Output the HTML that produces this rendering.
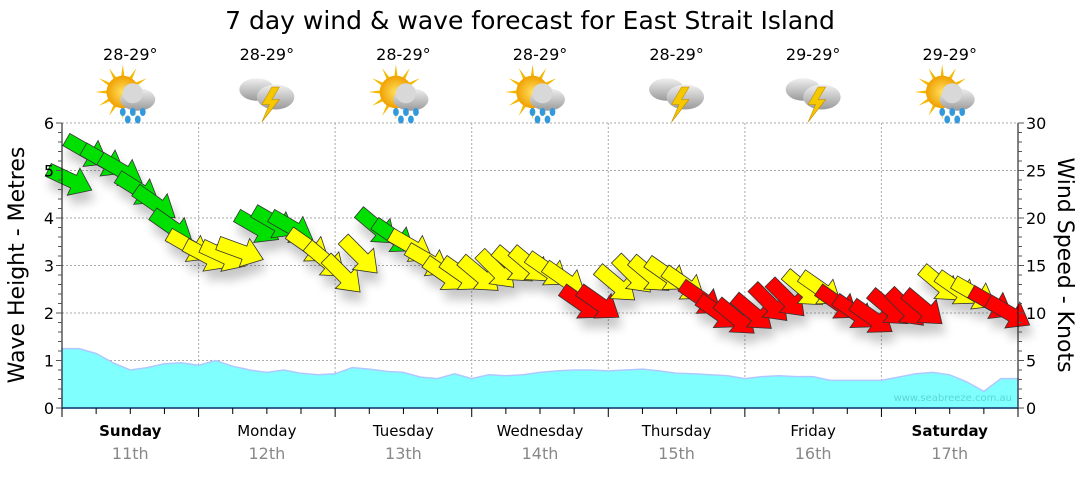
<!DOCTYPE html>
<html><head><meta charset="utf-8"><style>
body{margin:0;background:#fff;width:1080px;height:475px;overflow:hidden;font-family:"Liberation Sans","DejaVu Sans",sans-serif}
svg text{font-family:"DejaVu Sans","Liberation Sans",sans-serif}
</style></head><body>
<svg id="chart" width="1080" height="475" xmlns="http://www.w3.org/2000/svg">
<defs>
<filter id="sh" x="-50%" y="-50%" width="200%" height="200%"><feGaussianBlur in="SourceAlpha" stdDeviation="5"/><feOffset dx="3" dy="10"/><feComponentTransfer><feFuncA type="linear" slope="0.22"/></feComponentTransfer><feMerge><feMergeNode/><feMergeNode in="SourceGraphic"/></feMerge></filter>
<radialGradient id="sun" cx="50%" cy="50%" r="50%"><stop offset="0" stop-color="#ffe060"/><stop offset="1" stop-color="#f0a000"/></radialGradient>
<linearGradient id="cl" x1="0" y1="0" x2="0" y2="1"><stop offset="0" stop-color="#f0f0f0"/><stop offset="1" stop-color="#9a9a9a"/></linearGradient>
</defs>
<text x="530" y="29" font-size="25" text-anchor="middle" fill="#000">7 day wind &amp; wave forecast for East Strait Island</text>
<g id="grid"></g><g id="waves"></g><g id="arrows" filter="url(#sh)"></g><g id="axes"></g><g id="topg"></g>
<text x="1012" y="401" font-size="10" text-anchor="end" fill="#5cd6d6">www.seabreeze.com.au</text>
<text transform="translate(24,265) rotate(-90)" font-size="22" text-anchor="middle">Wave Height - Metres</text>
<text transform="translate(1058,265) rotate(90)" font-size="22" text-anchor="middle">Wind Speed - Knots</text>
</svg>
<script>
const days=["Sunday","Monday","Tuesday","Wednesday","Thursday","Friday","Saturday"];
const dates=["11th","12th","13th","14th","15th","16th","17th"];
const boldDays=[true,false,false,false,false,false,true];
const temps=["28-29°","28-29°","28-29°","28-29°","28-29°","29-29°","29-29°"];
const icons=["sunrain","storm","sunrain","sunrain","storm","storm","sunrain"];
const windKnots=[24,27,26,25,23,21.5,19,17, 16,16,16.5,19,19.5,19,17,15.5, 14,16,19,18,17,15.5,14,14, 14,14.5,15,15,14.5,13.5,11,11, 13,14,14,14,13,11.5,10,9.5, 10,11,11.5,12.5,12.5,11,10,9.5, 10.5,10.5,10.5,13,12.5,12,11,10];
const windDir=[25,30,30,30,32,35,35,30, 28,25,20,30,30,30,35,40, 45,45,40,35,30,30,35,35, 40,45,40,40,35,35,35,35, 40,45,40,35,35,35,35,40, 40,45,45,40,35,35,35,35, 40,45,40,40,35,30,30,30];
const waveM=[1.25,1.25,1.15,0.95,0.8,0.85,0.93,0.95, 0.9,1.0,0.88,0.8,0.75,0.8,0.73,0.7, 0.72,0.85,0.82,0.77,0.75,0.65,0.62,0.72, 0.62,0.7,0.68,0.7,0.75,0.78,0.8,0.8, 0.78,0.8,0.82,0.78,0.73,0.72,0.7,0.68, 0.62,0.66,0.68,0.66,0.66,0.58,0.58,0.58, 0.58,0.65,0.72,0.75,0.7,0.55,0.35,0.62, 0.62];
const leftTicks=[0,1,2,3,4,5,6];
const rightTicks=[0,5,10,15,20,25,30];
const NS="http://www.w3.org/2000/svg";
const X0=62,X1=1018,Y0=408,Y6=123,N=56;
const xs=i=>X0+(X1-X0)*i/N;
const ym=m=>Y0-(Y0-Y6)*m/6;
const yk=k=>ym(k/5);
function mk(tag,attrs,parent){const e=document.createElementNS(NS,tag);for(const k in attrs)e.setAttribute(k,attrs[k]);parent.appendChild(e);return e;}
const G=id=>document.getElementById(id);
const grid=G('grid');
for(const t of leftTicks){if(t===0)continue;const l=mk('line',{x1:X0,x2:X1,y1:ym(t),y2:ym(t),stroke:'#aaa','stroke-dasharray':'2,2'},grid);

}
for(let d=1;d<7;d++){const l=mk('line',{x1:xs(d*8),x2:xs(d*8),y1:Y6,y2:Y0,stroke:'#aaa','stroke-dasharray':'2,2'},grid);

}
let p='M'+X0+','+Y0;
waveM.forEach((m,i)=>{p+=' L'+xs(i).toFixed(1)+','+ym(m).toFixed(1);});
p+=' L'+X1+','+Y0+' Z';
const wa=mk('path',{d:p,fill:'#80ffff',stroke:'#b0c8ff','stroke-width':1.5},G('waves'));


const ag=G('arrows');
windKnots.forEach((k,i)=>{
 const col=k>=18?'#00e000':(k<12?'#ff0000':'#ffff00');
 const a=mk('polygon',{points:'-24,-7 4,-7 4,-15 24,0 4,15 4,7 -24,7',fill:col,stroke:'#333','stroke-width':0.8,
  transform:`translate(${(xs(i)+8).toFixed(1)},${yk(k).toFixed(1)}) rotate(${windDir[i]})`},ag);
 
 
});
const ax=G('axes');
mk('line',{x1:X0,x2:X0,y1:Y6,y2:Y0,stroke:'#000'},ax);
mk('line',{x1:X1,x2:X1,y1:Y6,y2:Y0,stroke:'#000'},ax);
mk('line',{x1:X0,x2:X1,y1:Y0,y2:Y0,stroke:'#0a3a6a','stroke-width':1.5},ax);
for(let m=0;m<=30;m++){const y=ym(m/5);mk('line',{x1:X0-(m%5?4:6),x2:X0,y1:y,y2:y,stroke:'#555'},ax);mk('line',{x1:X1,x2:X1+(m%5?4:6),y1:y,y2:y,stroke:'#555'},ax);}
for(const t of leftTicks){const e=mk('text',{x:X0-8,y:ym(t)+6,'font-size':16,'text-anchor':'end'},ax);e.textContent=t;

}
for(const t of rightTicks){const e=mk('text',{x:X1+8,y:yk(t)+6,'font-size':16},ax);e.textContent=t;

}
for(let i=0;i<=28;i++){const x=X0+(X1-X0)*i/28;mk('line',{x1:x,x2:x,y1:Y0,y2:Y0+(i%4?6:9),stroke:'#000'},ax);}
const topG=G('topg');
days.forEach((d,i)=>{
 const cx=X0+(X1-X0)*(i+0.5)/7;
 const e=mk('text',{x:cx,y:436,'font-size':15,'text-anchor':'middle','font-weight':boldDays[i]?'bold':'normal'},ax);e.textContent=d;
 
 
 const f=mk('text',{x:cx,y:459,'font-size':16,'text-anchor':'middle',fill:'#888'},ax);f.textContent=dates[i];
 
 
 const t=mk('text',{x:cx,y:60,'font-size':16,'text-anchor':'middle'},topG);t.textContent=temps[i];
 
 
 const g=mk('g',{transform:`translate(${cx},97) scale(1.25)`},topG);
 
 
 if(icons[i]==='sunrain'){
  for(let r=0;r<12;r++){mk('polygon',{points:'-3,0 3,0 0,-22',fill:'#f5b800',transform:`translate(-6,-4) rotate(${r*30})`},g);}
  mk('circle',{cx:-6,cy:-4,r:13,fill:'url(#sun)'},g);
  mk('ellipse',{cx:6,cy:2,rx:14,ry:9,fill:'url(#cl)'},g);
  mk('circle',{cx:2,cy:-3,r:8,fill:'#d8d8d8'},g);
  for(const [dx,dy] of [[-6,12],[2,12],[10,12],[-2,18],[6,18]])mk('ellipse',{cx:dx,cy:dy,rx:2.3,ry:3.2,fill:'#3399dd'},g);
 }else{
  mk('ellipse',{cx:-8,cy:-6,rx:14,ry:9,fill:'url(#cl)'},g);
  mk('ellipse',{cx:7,cy:0,rx:15,ry:10,fill:'url(#cl)'},g);
  mk('polygon',{points:'4,-8 -4,6 2,6 -4,20 10,2 4,2 10,-8',fill:'#f5c800',stroke:'#c89000','stroke-width':0.5},g);
 }
});
</script>
</body></html>
